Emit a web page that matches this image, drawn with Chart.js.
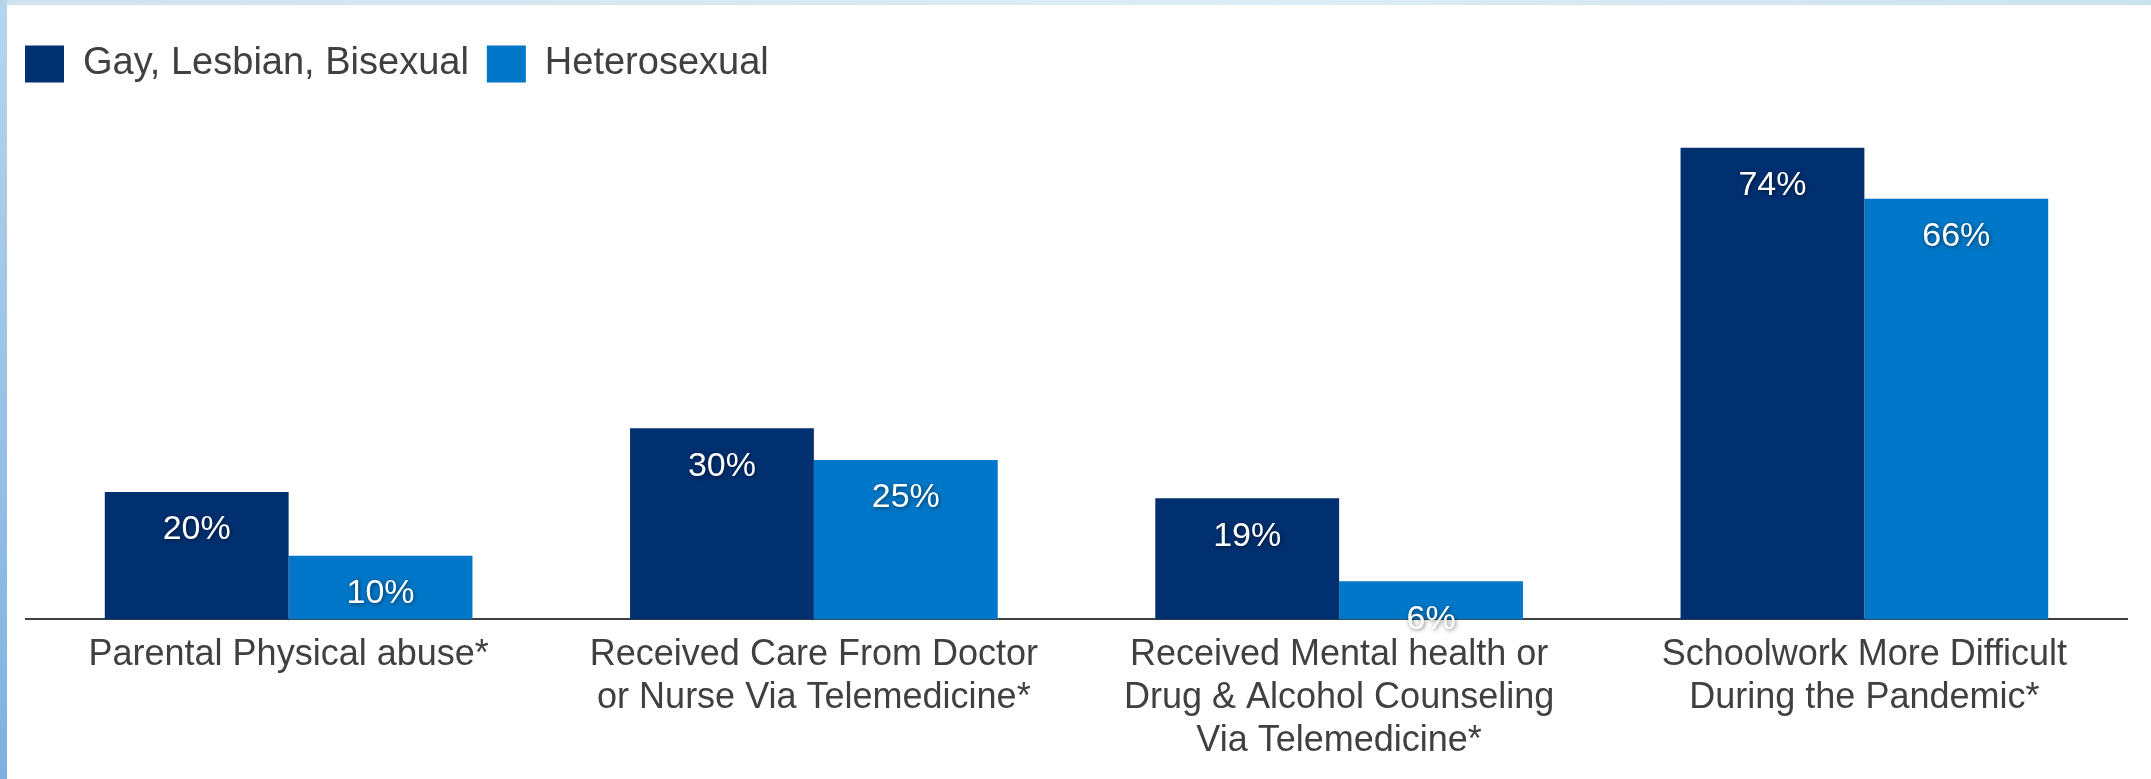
<!DOCTYPE html>
<html>
<head>
<meta charset="utf-8">
<script src="https://cdn.jsdelivr.net/npm/chart.js@4/dist/chart.umd.min.js"></script>
<style>
  html, body { margin: 0; padding: 0; }
  body {
    width: 2151px;
    height: 779px;
    overflow: hidden;
    background: linear-gradient(to right, #cfe3ef, #dcedf6 60%, #c9e2ef);
    position: relative;
  }
  .edge {
    position: absolute;
    left: 0; top: 0;
    width: 7px; height: 779px;
    background: linear-gradient(to bottom, #b5d5ec, #7fb1e0);
  }
  .panel {
    position: absolute;
    left: 7px; top: 5px;
    width: 2144px; height: 774px;
    background: #fff;
  }
</style>
</head>
<body>
<div class="edge"></div>
<div class="panel"><canvas id="barChart" width="2144" height="774"></canvas></div>
<script>
const categories = [
  ["Parental Physical abuse*"],
  ["Received Care From Doctor", "or Nurse Via Telemedicine*"],
  ["Received Mental health or", "Drug & Alcohol Counseling", "Via Telemedicine*"],
  ["Schoolwork More Difficult", "During the Pandemic*"],
];
const seriesNames = ["Gay, Lesbian, Bisexual", "Heterosexual"];
const glbValues = [20, 30, 19, 74];
const heteroValues = [10, 25, 6, 66];

const FONT = "'Liberation Sans', Arial, sans-serif";

// value labels drawn in white just under the top of each bar
const barLabels = {
  id: "barLabels",
  afterDatasetsDraw(chart) {
    const ctx = chart.ctx;
    ctx.save();
    ctx.font = "34px " + FONT;
    ctx.textAlign = "center";
    ctx.textBaseline = "middle";
    ctx.fillStyle = "#ffffff";
    ctx.shadowColor = "rgba(0, 0, 0, 0.55)";
    ctx.shadowBlur = 4;
    ctx.shadowOffsetX = 1;
    ctx.shadowOffsetY = 1;
    chart.data.datasets.forEach((ds, di) => {
      chart.getDatasetMeta(di).data.forEach((bar, i) => {
        ctx.fillText(ds.data[i] + "%", bar.x, bar.y + 38);
      });
    });
    ctx.restore();
  },
};

const barCtx = document.getElementById("barChart").getContext("2d");
new Chart(barCtx, {
  type: "bar",
  data: {
    labels: categories,
    datasets: [
      {
        label: seriesNames[0],
        data: glbValues,
        backgroundColor: "#003070",
      },
      {
        label: seriesNames[1],
        data: heteroValues,
        backgroundColor: "#0077c8",
      },
    ],
  },
  options: {
    responsive: false,
    animation: false,
    layout: {
      padding: { top: 22, right: 24, bottom: 2, left: 0 },
    },
    datasets: {
      bar: {
        categoryPercentage: 0.7,
        barPercentage: 1.0,
      },
    },
    plugins: {
      legend: {
        position: "top",
        align: "start",
        labels: {
          boxWidth: 39,
          boxHeight: 37,
          padding: 18,
          color: "#404040",
          font: { family: FONT, size: 38 },
        },
      },
      tooltip: { enabled: false },
    },
    scales: {
      x: {
        grid: { display: false, drawTicks: false },
        border: { display: true, color: "#404040", width: 2 },
        ticks: {
          color: "#404040",
          padding: 14,
          maxRotation: 0,
          autoSkip: false,
          font: { family: FONT, size: 36, lineHeight: 1.2 },
        },
      },
      y: {
        min: 0,
        max: 82.6,
        grid: { display: false, drawTicks: false },
        border: { display: false },
        ticks: { display: false },
        afterFit(scale) {
          scale.width = 19;
        },
      },
    },
  },
  plugins: [barLabels],
});
</script>
</body>
</html>
